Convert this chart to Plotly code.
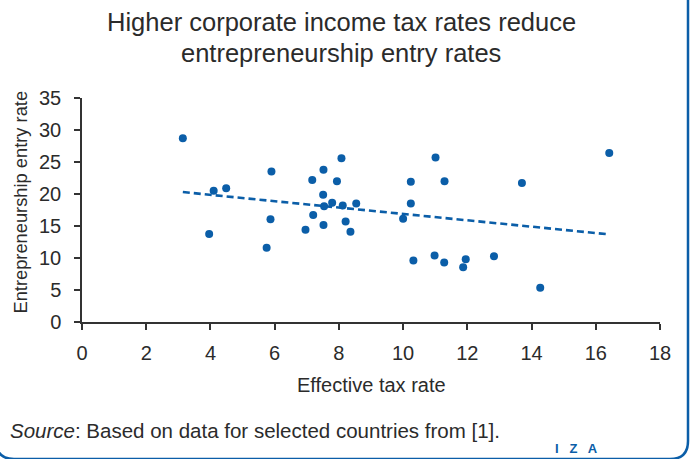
import plotly.graph_objects as go

# ---- data ----
tax_rate = [3.14, 4.10, 4.49, 3.96, 5.90, 5.87, 5.75, 7.17, 7.52, 8.08, 7.94, 7.51,
            7.79, 7.54, 8.12, 8.54, 7.20, 8.21, 7.52, 6.96, 8.36, 11.01, 10.24, 11.29,
            13.70, 16.42, 10.24, 10.00, 10.32, 10.98, 11.28, 11.95, 11.87, 12.83, 14.27]
entry_rate = [28.7, 20.5, 20.9, 13.75, 23.5, 16.05, 11.6, 22.2, 23.8, 25.6, 22.0, 19.9,
              18.65, 18.1, 18.2, 18.5, 16.7, 15.7, 15.15, 14.4, 14.1, 25.7, 21.9, 22.0,
              21.7, 26.4, 18.5, 16.15, 9.6, 10.4, 9.3, 9.8, 8.55, 10.27, 5.37]
trend_x = [3.14, 16.4]
trend_y = [20.3, 13.7]
x_ticks = [0, 2, 4, 6, 8, 10, 12, 14, 16, 18]
y_ticks = [0, 5, 10, 15, 20, 25, 30, 35]

title_line1 = "Higher corporate income tax rates reduce"
title_line2 = "entrepreneurship entry rates"
x_title = "Effective tax rate"
y_title = "Entrepreneurship entry rate"

# ---- layout constants ----
W, H = 690, 459
ML, MR, MT, MB = 82, 30, 98, 137
PW, PH = W - ML - MR, H - MT - MB
BLUE = "#0b5ea8"
TXT = "#2b2b2b"
FONT = "Liberation Sans, Arial, sans-serif"


def px(x):
    return (x - ML) / PW


def py(y):
    return (H - MB - y) / PH


fig = go.Figure()
fig.add_trace(go.Scatter(
    x=trend_x, y=trend_y, mode="lines",
    line=dict(color=BLUE, width=2.6, dash="7px,4px"),
    hoverinfo="skip", showlegend=False,
))
fig.add_trace(go.Scatter(
    x=tax_rate, y=entry_rate, mode="markers",
    marker=dict(color=BLUE, size=8, line=dict(width=0)),
    showlegend=False,
))

axis_common = dict(
    showgrid=False, zeroline=False, showline=True, linecolor="#333333", linewidth=1.5,
    ticks="outside", ticklen=6, tickwidth=1.5, tickcolor="#333333",
    tickfont=dict(family=FONT, size=20, color=TXT),
)
fig.update_xaxes(range=[0, 18], tickvals=x_ticks, ticklabelstandoff=6, **axis_common)
fig.update_yaxes(range=[0, 35], tickvals=y_ticks, ticklabelstandoff=9, **axis_common)

annotations = [
    dict(text=title_line1, x=px(341), y=py(21.8), font=dict(size=25.5)),
    dict(text=title_line2, x=px(341), y=py(53), font=dict(size=25.5)),
    dict(text=x_title, x=px(371), y=py(385), font=dict(size=20)),
    dict(text=y_title, x=px(20), y=py(202.5), font=dict(size=18.3), textangle=-90),
    dict(text="<i>Source</i>: Based on data for selected countries from [1].",
         x=px(8), y=py(430), xanchor="left", font=dict(size=20.5)),
    dict(text="<b>I   Z   A</b>", x=px(576), y=py(448), font=dict(size=13, color=BLUE)),
]
for a in annotations:
    f = dict(family=FONT, color=TXT)
    f.update(a.pop("font"))
    fig.add_annotation(xref="paper", yref="paper", showarrow=False,
                       xanchor=a.pop("xanchor", "center"), yanchor="middle",
                       font=f, **a)

# rounded frame (partly outside the visible page at top/left)
L, R, T, B, r = -4, 688, -40, 459, 18
path = (f"M {px(L + r)} {py(T)} L {px(R - r)} {py(T)} "
        f"Q {px(R)} {py(T)} {px(R)} {py(T + r)} L {px(R)} {py(B - r)} "
        f"Q {px(R)} {py(B)} {px(R - r)} {py(B)} L {px(L + r)} {py(B)} "
        f"Q {px(L)} {py(B)} {px(L)} {py(B - r)} L {px(L)} {py(T + r)} "
        f"Q {px(L)} {py(T)} {px(L + r)} {py(T)} Z")
fig.add_shape(type="path", path=path, xref="paper", yref="paper",
              line=dict(color=BLUE, width=2.5), layer="above")

fig.update_layout(
    width=W, height=H, margin=dict(l=ML, r=MR, t=MT, b=MB),
    paper_bgcolor="white", plot_bgcolor="white",
    font=dict(family=FONT, color=TXT),
)

fig.write_html(
    "out.html",
    config={"displayModeBar": False},
    post_script="document.body.style.margin='0';document.body.style.overflow='hidden';",
)
